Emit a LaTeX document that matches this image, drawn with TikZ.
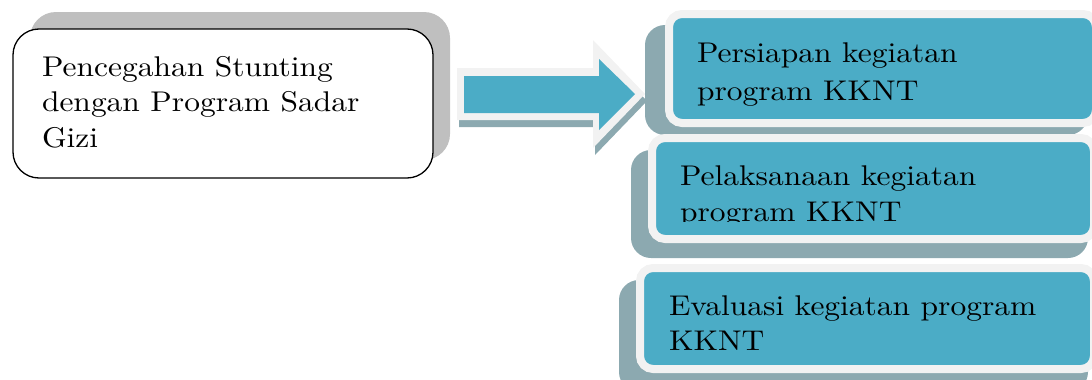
\documentclass[tikz,border=0pt]{standalone}
\usepackage{fontspec}
\usepackage{graphicx}
\usepackage{tikz}
\newfontfamily\boxfont{lmroman10-regular}[Extension=.otf]
\newcommand\widetext[1]{\scalebox{1.105}[1]{#1}}
\definecolor{teal}{HTML}{4BACC6}
\definecolor{rim}{HTML}{F2F2F2}
\definecolor{tealshade}{HTML}{8CA9B0}
\definecolor{greyshade}{HTML}{BFBFBF}
\tikzset{
  every node/.style={inner sep=0pt, outer sep=0pt},
  shadebox/.style={fill=tealshade, rounded corners=20pt},
  stepbox/.style={fill=teal, draw=rim, line width=8pt, rounded corners=13pt},
  mainbox/.style={fill=white, draw=black, line width=1.3pt, rounded corners=26pt},
  label/.style={anchor=base west, font=\boxfont\fontsize{28.5}{37}\selectfont},
}
\begin{document}
\begin{tikzpicture}[x=1pt, y=-1pt]
\useasboundingbox (0,0) rectangle (1092,380);
\clip (0,0) rectangle (1092,380);

% topic box with grey drop shadow
\node[fill=greyshade, rounded corners=26pt, minimum width=420pt, minimum height=148pt] (mainshade) at (240,86) {};
\node[mainbox, minimum width=420pt, minimum height=149pt] (main) at (223,103.5) {};
\node[label] (m1) at (42,76) {\widetext{Pencegahan Stunting}};
\node[label] (m2) at (42,111) {\widetext{dengan Program Sadar}};
\node[label] (m3) at (42,147) {\widetext{Gizi}};

% block arrow: shadow, light rim, teal body
\fill[tealshade] (459,75) -- (595,75) -- (595,47) -- (647,101) -- (595,155) -- (595,127) -- (459,127) -- cycle;
\fill[rim] (457,68) -- (593,68) -- (593,40) -- (645,94) -- (593,148) -- (593,120) -- (457,120) -- cycle;
\fill[teal] (464,76) -- (599,76) -- (599,59) -- (635,94) -- (599,130) -- (599,113) -- (464,113) -- cycle;

% step boxes with their shadows
\node[shadebox, minimum width=443pt, minimum height=110pt] (s1) at (866.5,80) {};
\node[stepbox, minimum width=427pt, minimum height=109pt] (b1) at (882.5,68.5) {};
\node[label] (b1a) at (697,62) {\widetext{Persiapan kegiatan}};
\node[label] (b1b) at (697,100) {\widetext{program KKNT}};

\node[shadebox, minimum width=457pt, minimum height=108pt] (s2) at (859.5,204) {};
\node[stepbox, minimum width=442pt, minimum height=101pt] (b2) at (873,188.5) {};
\node[label] (b2a) at (680,185) {\widetext{Pelaksanaan kegiatan}};
\begin{scope}
  \clip (660,192) rectangle (1090,221.5);
  \node[label] (b2b) at (680,221) {\widetext{program KKNT}};
\end{scope}

\node[shadebox, minimum width=469pt, minimum height=112pt] (s3) at (853.5,336) {};
\node[stepbox, minimum width=454pt, minimum height=101pt] (b3) at (867,318.5) {};
\node[label] (b3a) at (669,315) {\widetext{Evaluasi kegiatan program}};
\node[label] (b3b) at (669,350) {\widetext{KKNT}};
\end{tikzpicture}
\end{document}
